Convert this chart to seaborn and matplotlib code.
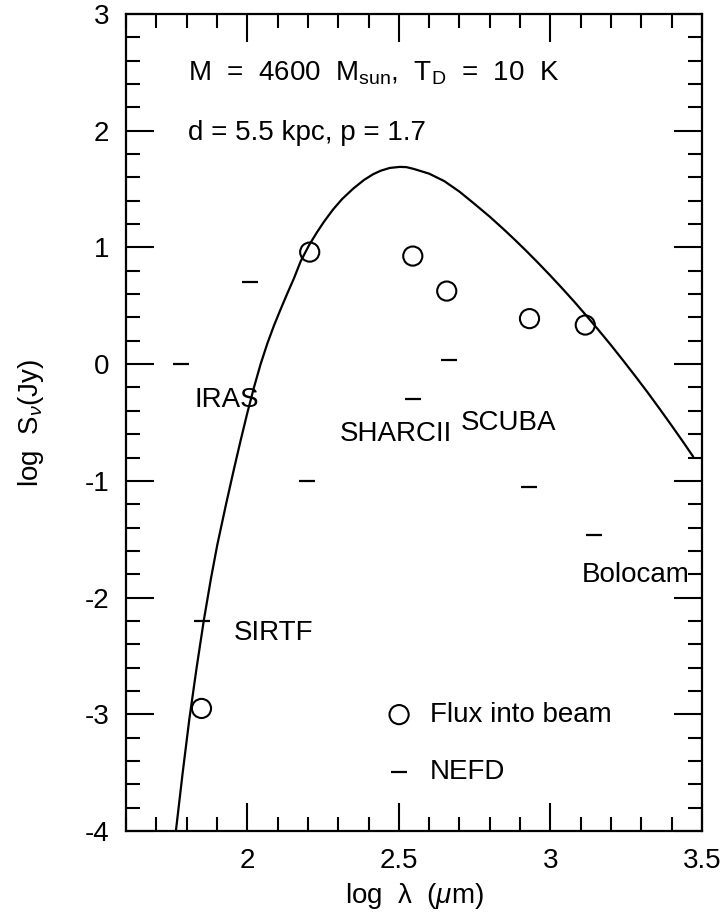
import numpy as np
import pandas as pd
import matplotlib
matplotlib.use("Agg")
import matplotlib.pyplot as plt
import seaborn as sns
from matplotlib.ticker import MultipleLocator

# ---------------- data ----------------
# model curve: log wavelength (um) vs log flux density (Jy)
model_logl = [1.765, 1.787, 1.809, 1.833, 1.857, 1.880, 1.901, 1.930, 1.956, 1.978,
              2.000, 2.022, 2.044, 2.066, 2.088, 2.110, 2.132, 2.154, 2.176, 2.204,
              2.230, 2.253, 2.283, 2.313, 2.350, 2.385, 2.415, 2.440, 2.470, 2.503,
              2.525, 2.550, 2.600, 2.650, 2.700, 2.750, 2.800, 2.846, 2.880, 2.920,
              2.960, 3.000, 3.040, 3.080, 3.120, 3.160, 3.200, 3.240, 3.280, 3.320,
              3.360, 3.400, 3.440, 3.471]
model_logs = [-3.99, -3.50, -3.04, -2.60, -2.19, -1.84, -1.55, -1.20, -0.90, -0.655,
              -0.42, -0.20, 0.00, 0.175, 0.33, 0.47, 0.605, 0.735, 0.88, 1.02,
              1.13, 1.22, 1.325, 1.415, 1.505, 1.578, 1.627, 1.657, 1.681, 1.690,
              1.688, 1.672, 1.632, 1.568, 1.478, 1.372, 1.263, 1.155, 1.072, 0.971,
              0.866, 0.758, 0.646, 0.531, 0.411, 0.288, 0.162, 0.031, -0.103, -0.240,
              -0.382, -0.527, -0.675, -0.793]

# flux into beam (open circles)
flux_logl = [1.849, 2.206, 2.546, 2.658, 2.931, 3.115]
flux_logs = [-2.95, 0.96, 0.926, 0.626, 0.390, 0.335]

# NEFD (short horizontal dashes)
nefd_logl = [1.780, 2.010, 1.850, 2.197, 2.546, 2.664, 2.928, 3.145]
nefd_logs = [0.00, 0.70, -2.20, -1.00, -0.30, 0.035, -1.05, -1.46]

# instrument labels
inst_names = ["IRAS", "SIRTF", "SHARCII", "SCUBA", "Bolocam"]
inst_x = [1.826, 1.957, 2.306, 2.704, 3.102]
inst_y = [-0.31, -2.30, -0.60, -0.505, -1.81]

xticks_major = [2, 2.5, 3, 3.5]
yticks_major = [-4, -3, -2, -1, 0, 1, 2, 3]

# ---------------- style ----------------
sns.set_style("ticks")
plt.rcParams["font.family"] = ["Liberation Sans", "DejaVu Sans"]
plt.rcParams["mathtext.fontset"] = "custom"
plt.rcParams["mathtext.rm"] = "Liberation Sans"
plt.rcParams["mathtext.it"] = "Liberation Sans:italic"
plt.rcParams["mathtext.bf"] = "Liberation Sans:bold"
plt.rcParams["axes.unicode_minus"] = False
for key in ["text.color", "axes.labelcolor", "xtick.color", "ytick.color",
            "axes.edgecolor"]:
    plt.rcParams[key] = "black"

FS = 20
fig = plt.figure(figsize=(7.25, 9.23), dpi=100)
ax = fig.add_axes([126 / 725, 1 - 831 / 923, (702 - 126) / 725, (831 - 14) / 923])

curve_df = pd.DataFrame({"logl": model_logl, "logs": model_logs})
sns.lineplot(data=curve_df, x="logl", y="logs", sort=False, estimator=None,
             color="black", linewidth=1.6, ax=ax)

sns.scatterplot(x=flux_logl, y=flux_logs, marker="o", s=190, facecolors="none",
                edgecolor="black", linewidth=1.5, label="Flux into beam", ax=ax, zorder=3)
sns.scatterplot(x=nefd_logl, y=nefd_logs, marker="_", s=130, color="black",
                linewidth=1.6, label="NEFD", ax=ax, zorder=3)

for name, tx, ty in zip(inst_names, inst_x, inst_y):
    ax.text(tx, ty, name, fontsize=FS, ha="left", va="center", color="black")

ax.text(1.803, 2.49, r"M  =  4600  M$_{\rm sun}$,  T$_{\rm D}$  =  10  K",
        fontsize=FS, ha="left", va="center", color="black")
ax.text(1.803, 1.98, "d = 5.5 kpc, p = 1.7", fontsize=FS, ha="left", va="center",
        color="black")

ax.set_xlim(1.6, 3.5)
ax.set_ylim(-4, 3)
ax.set_xticks(xticks_major)
ax.set_xticklabels([f"{v:g}" for v in xticks_major])
ax.set_yticks(yticks_major)
ax.set_yticklabels([f"{v:g}" for v in yticks_major])
ax.xaxis.set_minor_locator(MultipleLocator(0.1))
ax.yaxis.set_minor_locator(MultipleLocator(0.2))
ax.tick_params(which="both", direction="in", top=True, right=True, width=1.5,
               color="black", labelcolor="black", labelsize=FS)
ax.tick_params(which="major", length=20)
ax.tick_params(which="minor", length=10)
ax.tick_params(axis="x", which="major", pad=12)
ax.tick_params(axis="y", which="major", pad=12)
for sp in ax.spines.values():
    sp.set_visible(True)
    sp.set_linewidth(1.6)
    sp.set_color("black")

ax.set_xlabel(r"log  λ  ($\mu$m)", fontsize=FS, labelpad=5, color="black")
ax.set_ylabel(r"log  S$_\nu$(Jy)", fontsize=FS, labelpad=28, color="black")

leg = ax.legend(loc="upper left", bbox_to_anchor=(0.45, 0.158), frameon=False,
                fontsize=FS, handlelength=1.0, handletextpad=0.6, labelspacing=1.12,
                borderpad=0, borderaxespad=0)
for t in leg.get_texts():
    t.set_color("black")

fig.savefig("out.png", dpi=100)
